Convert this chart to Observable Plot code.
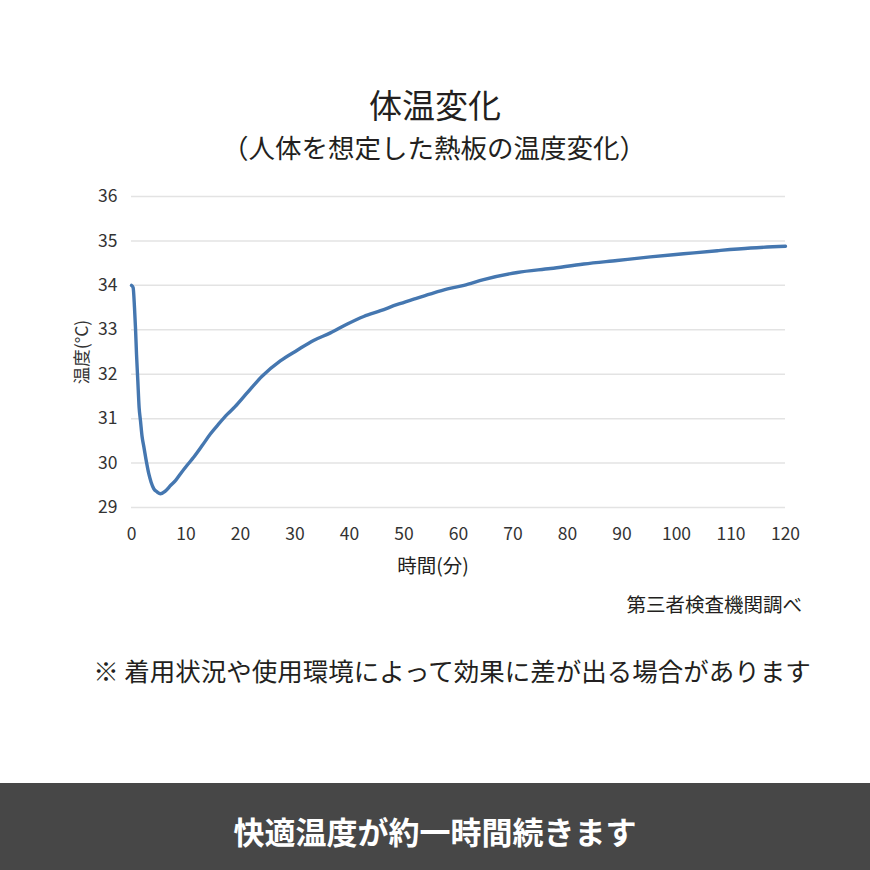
<!DOCTYPE html>
<html>
<head>
<meta charset="utf-8">
<script src="https://cdn.jsdelivr.net/npm/d3@7"></script>
<script src="https://cdn.jsdelivr.net/npm/@observablehq/plot@0.6"></script>
<style>
  html, body { margin: 0; padding: 0; background: #fff; }
  #page { position: relative; width: 870px; height: 870px; overflow: hidden; font-family: "Noto Sans CJK JP", "Noto Sans", sans-serif; color: #231f20; }
  .txt { position: absolute; white-space: nowrap; line-height: 1; }
  #title { left: 0; width: 870px; text-align: center; top: 88px; font-size: 33px; }
  #subtitle { left: 0; width: 868px; text-align: center; top: 134px; font-size: 26.5px; }
  #chart { position: absolute; left: 0; top: 170px; }
  #xlabel { left: 333px; width: 200px; text-align: center; top: 555px; font-size: 19.5px; }
  #source { right: 68px; top: 594px; font-size: 19.5px; }
  #note { left: 0; width: 904px; text-align: center; top: 657px; font-size: 25.5px; }
  #bar { position: absolute; left: 0; top: 783px; width: 870px; height: 87px; background: #474747; }
  #bartext { left: 0; width: 870px; text-align: center; top: 815px; font-size: 31px; font-weight: 700; color: #fff; }
</style>
</head>
<body>
<div id="page">
  <div class="txt" id="title"></div>
  <div class="txt" id="subtitle"></div>
  <div id="chart"></div>
  <div class="txt" id="xlabel"></div>
  <div class="txt" id="source"></div>
  <div class="txt" id="note"></div>
  <div id="bar"></div>
  <div class="txt" id="bartext"></div>
</div>
<script>
// ---- texts ----
const titleText = "体温変化";
const subtitleText = "（人体を想定した熱板の温度変化）";
const yLabel = "温度(°C)";
const xLabel = "時間(分)";
const sourceText = "第三者検査機関調べ";
const noteText = "※ 着用状況や使用環境によって効果に差が出る場合があります";
const barText = "快適温度が約一時間続きます";

// ---- data (minutes, °C) ----
const times = [0, 0.3, 0.55, 0.73, 0.92, 1.16, 1.4, 1.65, 1.96, 2.26, 2.75, 3.17, 3.6, 4.1, 4.7, 5.3, 6.2, 7.2, 8.1, 9.0, 10.2, 11.4, 13.0, 14.5, 16.0, 17.6, 19.0, 21.0, 24.0, 27.3, 30.4, 33.4, 36.5, 39.6, 42.6, 45.7, 48.8, 51.8, 54.9, 58.0, 61.0, 64.6, 70.8, 76.9, 83.0, 89.1, 95.2, 101.3, 107.5, 113.6, 120];
const temps = [34.0, 33.95, 33.5, 33.05, 32.45, 31.85, 31.25, 30.95, 30.58, 30.37, 30.02, 29.76, 29.57, 29.42, 29.35, 29.31, 29.37, 29.5, 29.61, 29.76, 29.95, 30.13, 30.4, 30.66, 30.88, 31.1, 31.27, 31.55, 31.96, 32.3, 32.54, 32.76, 32.93, 33.13, 33.3, 33.43, 33.57, 33.69, 33.81, 33.92, 34.0, 34.13, 34.29, 34.38, 34.48, 34.56, 34.64, 34.71, 34.78, 34.84, 34.88];

const xTicks = [0, 10, 20, 30, 40, 50, 60, 70, 80, 90, 100, 110, 120];
const yTicks = [29, 30, 31, 32, 33, 34, 35, 36];

const data = times.map((t, i) => ({t, v: temps[i]}));

document.getElementById("title").textContent = titleText;
document.getElementById("subtitle").textContent = subtitleText;
document.getElementById("xlabel").textContent = xLabel;
document.getElementById("source").textContent = sourceText;
document.getElementById("note").textContent = noteText;
document.getElementById("bartext").textContent = barText;

const chart = Plot.plot({
  width: 870,
  height: 400,
  marginTop: 26,
  marginBottom: 63,
  marginLeft: 131,
  marginRight: 85,
  style: { fontFamily: '"Noto Sans CJK JP", "Noto Sans", sans-serif', fontSize: "17.5px", color: "#333", background: "transparent" },
  x: { domain: [0, 120] },
  y: { domain: [29, 36] },
  marks: [
    Plot.gridY(yTicks, { stroke: "#e3e3e3", strokeOpacity: 1, strokeWidth: 1.5 }),
    Plot.axisY(yTicks, { tickSize: 0, tickPadding: 14, label: yLabel, labelAnchor: "center", labelArrow: "none", labelOffset: 56, fontSize: 17.5 }),
    Plot.axisX(xTicks, { tickSize: 0, tickPadding: 20, label: null, fontSize: 17.5 }),
    Plot.line(data, { x: "t", y: "v", stroke: "#4577b0", strokeWidth: 3.4, curve: "monotone-x" })
  ]
});
document.getElementById("chart").appendChild(chart);
</script>
</body>
</html>
